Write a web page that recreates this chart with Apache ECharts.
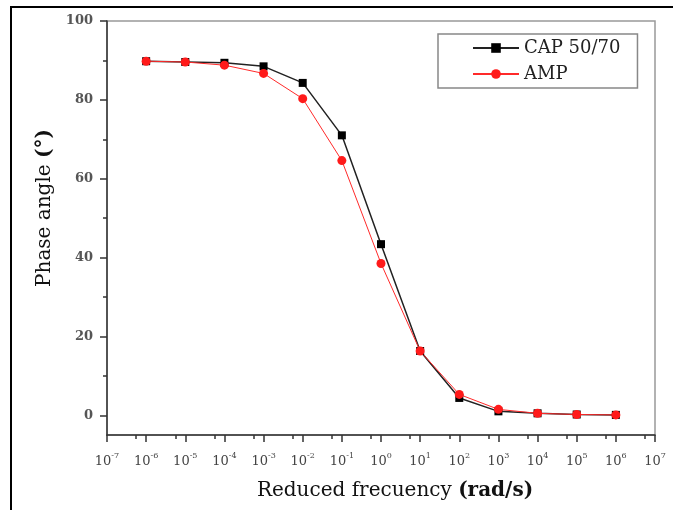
<!DOCTYPE html>
<html>
<head>
<meta charset="utf-8">
<script src="https://cdn.jsdelivr.net/npm/echarts@6/dist/echarts.min.js"></script>
<style>
  html, body { margin: 0; padding: 0; background: #fff; }
  #chart { width: 673px; height: 510px; }
</style>
</head>
<body>
<div id="chart"></div>
<script>
// reduced frequency (rad/s)
const frequencies = [1e-6, 1e-5, 1e-4, 1e-3, 1e-2, 1e-1, 1e0, 1e1, 1e2, 1e3, 1e4, 1e5, 1e6];
// phase angle (deg)
const cap5070 = [89.8, 89.6, 89.4, 88.5, 84.3, 71.0, 43.4, 16.3, 4.4, 1.0, 0.5, 0.2, 0.1];
const amp = [89.8, 89.6, 88.8, 86.7, 80.3, 64.6, 38.5, 16.3, 5.3, 1.5, 0.5, 0.2, 0.1];
// decade exponents shown under the x axis
const decadeMin = -7;
const decadeMax = 7;
const xMinorTicks = [-6.256, -5.256, -4.256, -3.256, -2.256, -1.256, -0.256, 0.744, 1.744, 2.744, 3.744, 4.744, 5.744, 6.744];
const yLabelValues = [0, 20, 40, 60, 80, 100];
const yMinorTicks = [10, 30, 50, 70, 90];

const serif = 'DejaVu Serif';

let myChart = echarts.init(document.getElementById('chart'));

function pairs(ys) {
  return frequencies.map((f, i) => [f, ys[i]]);
}

let option = {
  animation: false,
  backgroundColor: '#fff',
  grid: {
    left: 107,
    right: 18,
    top: 21,
    bottom: 75,
    show: true,
    borderColor: '#999',
    borderWidth: 1.5
  },
  legend: {
    left: 438,
    top: 34,
    orient: 'vertical',
    padding: [5, 17, 5, 34],
    borderColor: '#888',
    borderWidth: 1.5,
    itemWidth: 46,
    itemHeight: 12,
    itemGap: 8,
    textStyle: { fontFamily: serif, fontSize: 18, color: '#222' },
    data: ['CAP 50/70', 'AMP']
  },
  xAxis: [
    {
      // log axis that places the data
      type: 'log',
      logBase: 10,
      min: Math.pow(10, decadeMin),
      max: Math.pow(10, decadeMax),
      name: '{n|Reduced frecuency }{b|(rad/s)}',
      nameLocation: 'middle',
      nameGap: 46,
      nameTextStyle: {
        padding: [0, 0, 0, 28],
        rich: {
          n: { fontFamily: serif, fontSize: 20, color: '#111' },
          b: { fontFamily: serif, fontSize: 20, fontWeight: 'bold', color: '#111' }
        }
      },
      axisLine: { onZero: false, lineStyle: { color: '#333', width: 1.5 } },
      axisTick: { show: false },
      axisLabel: { show: false },
      splitLine: { show: false }
    },
    {
      // decade labels and ticks, same span in exponent units
      type: 'value',
      min: decadeMin,
      max: decadeMax,
      interval: 1,
      position: 'bottom',
      axisLine: { show: false, onZero: false },
      splitLine: { show: false },
      axisTick: { show: true, length: 7, lineStyle: { color: '#333', width: 1.5 } },
      axisLabel: {
        margin: 17,
        formatter: function (e) {
          return '{a|10}{s|' + e + '}';
        },
        rich: {
          a: { fontFamily: serif, fontSize: 13, color: '#444', lineHeight: 16, verticalAlign: 'bottom' },
          s: { fontFamily: serif, fontSize: 8, color: '#444', lineHeight: 16, verticalAlign: 'top' }
        }
      }
    },
    {
      // short extra ticks next to each decade
      type: 'value',
      min: decadeMin,
      max: decadeMax,
      position: 'bottom',
      axisLine: { show: false, onZero: false },
      axisLabel: { show: false },
      splitLine: { show: false },
      axisTick: {
        show: true,
        length: 4,
        customValues: xMinorTicks,
        lineStyle: { color: '#333', width: 1.5 }
      }
    }
  ],
  yAxis: [
    {
      type: 'value',
      min: -5,
      max: 100,
      name: '{n|Phase angle }{b|(°)}',
      nameLocation: 'middle',
      nameGap: 52,
      nameTextStyle: {
        padding: [0, 0, 0, 40],
        rich: {
          n: { fontFamily: serif, fontSize: 20, color: '#111' },
          b: { fontFamily: serif, fontSize: 20, fontWeight: 'bold', color: '#111' }
        }
      },
      axisLine: { show: true, onZero: false, lineStyle: { color: '#333', width: 1.5 } },
      axisTick: { show: true, length: 7, customValues: yLabelValues, lineStyle: { color: '#333', width: 1.5 } },
      splitLine: { show: false },
      axisLabel: {
        customValues: yLabelValues,
        margin: 14,
        fontFamily: serif,
        fontSize: 13,
        fontWeight: 'bold',
        color: '#555'
      }
    },
    {
      type: 'value',
      min: -5,
      max: 100,
      position: 'left',
      axisLine: { show: false, onZero: false },
      axisLabel: { show: false },
      splitLine: { show: false },
      axisTick: { show: true, length: 4, customValues: yMinorTicks, lineStyle: { color: '#333', width: 1.5 } }
    }
  ],
  series: [
    {
      name: 'CAP 50/70',
      type: 'line',
      data: pairs(cap5070),
      symbol: 'rect',
      symbolSize: 8,
      color: '#000',
      lineStyle: { color: '#222', width: 1.5 },
      itemStyle: { color: '#000' }
    },
    {
      name: 'AMP',
      type: 'line',
      data: pairs(amp),
      symbol: 'circle',
      symbolSize: 9,
      color: '#ff1a1a',
      lineStyle: { color: '#ff2a2a', width: 1 },
      itemStyle: { color: '#ff1a1a' }
    }
  ],
  graphic: [
    { type: 'line', shape: { x1: 11, y1: 7, x2: 11, y2: 510 }, style: { stroke: '#000', lineWidth: 2 } },
    { type: 'line', shape: { x1: 10, y1: 7, x2: 673, y2: 7 }, style: { stroke: '#000', lineWidth: 2 } }
  ]
};

myChart.setOption(option);
window.addEventListener('resize', () => { myChart.resize() });
</script>
</body>
</html>
